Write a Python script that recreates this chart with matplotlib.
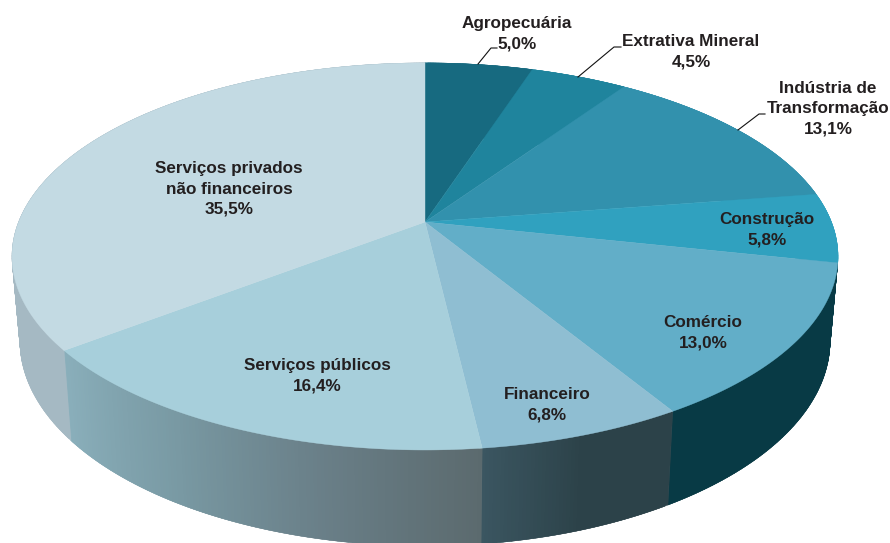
import numpy as np
import matplotlib
matplotlib.use("Agg")
import matplotlib.pyplot as plt
from matplotlib.colors import to_rgb
from matplotlib.patches import Polygon

plt.rcParams["font.family"] = ["Liberation Sans", "DejaVu Sans"]

# sector names and their share of the total, clockwise from 12 o'clock
sectors = ["Agropecuária", "Extrativa Mineral", "Indústria de\nTransformação", "Construção",
           "Comércio", "Financeiro", "Serviços públicos", "Serviços privados\nnão financeiros"]
shares = [5.0, 4.5, 13.1, 5.8, 13.0, 6.8, 16.4, 35.5]

top_colors = ["#176a80", "#1f849d", "#3291ad", "#30a1bf", "#62aec8", "#8fbed2", "#a7cfdb", "#c3dae3"]
# shading along the rim of each slice, colour stops in clockwise order
rim_stops = [["#176a80"], ["#1f849d"], ["#3291ad"], ["#30a1bf"],
             ["#083a45"],
             ["#2c4249", "#2c4249", "#3b5661"],
             ["#5b6a6e", "#6a8089", "#7a9ba5", "#8aafbb"],
             ["#a5b9c3"]]
label_xy = [(517, 34), (691, 52), (828, 109), (767, 230), (703, 333), (547, 405), (317, 376), (229, 189)]
leaders = [[(478, 64), (491, 48), (497, 48)],
           [(578, 77), (614, 47), (621, 47)],
           [(738, 130), (759, 114), (765, 114)]]

# perspective projection of the disc: apex of the slices on the page
APEX = (425, 222)
KEEN = 0.178
TOP = (406.4, 187.4, 0.0)
BOTTOM = (398.6, 183.8, -82.5)
TEXT_COLOR = "#231f20"


def project(theta, plane):
    a, b, c = plane
    u, v = np.sin(theta), np.cos(theta)
    w = 1 + KEEN * v
    return np.column_stack((APEX[0] + a * u / w, APEX[1] - (b * v + c) / w))


def shade(stops, t):
    rgb = np.array([to_rgb(s) for s in stops])
    pos = np.linspace(0, 1, len(stops))
    return tuple(np.interp(t, pos, rgb[:, i]) for i in range(3))


def pct(value):
    return f"{value:.1f}%".replace(".", ",")


fig = plt.figure(figsize=(8.9, 5.43), dpi=100)
ax = fig.add_axes([0, 0, 1, 1])
ax.set_xlim(0, 890)
ax.set_ylim(543, 0)
ax.axis("off")

edges = np.cumsum([0] + shares) / sum(shares) * 2 * np.pi

# rim first as thin strips, each running under the next so no seams show;
# the top face then covers whatever is behind it
for i, stops in enumerate(rim_stops):
    n_strips = int(shares[i] * 8)
    bands = np.linspace(edges[i], edges[i + 1], n_strips + 1)
    for j in range(n_strips):
        th = bands[[j, min(j + 2, n_strips)]]
        pts = np.vstack((project(th, TOP), project(th[::-1], BOTTOM)))
        col = shade(stops, (j + 0.5) / n_strips)
        ax.add_patch(Polygon(pts, closed=True, facecolor=col, edgecolor=col, linewidth=0.3, zorder=1))

for i, col in enumerate(top_colors):
    th = np.linspace(edges[i], edges[i + 1], 200)
    pts = np.vstack(([APEX], project(th, TOP)))
    ax.add_patch(Polygon(pts, closed=True, facecolor=col, edgecolor=col, linewidth=0.3, zorder=2))

for line in leaders:
    xs, ys = zip(*line)
    ax.plot(xs, ys, color="#111111", linewidth=0.8, zorder=3)

for name, value, (x, y) in zip(sectors, shares, label_xy):
    ax.text(x, y, f"{name}\n{pct(value)}", ha="center", va="center", fontsize=12.3,
            fontweight="bold", color=TEXT_COLOR, linespacing=1.45, zorder=4)

fig.savefig("out.png", dpi=100)
